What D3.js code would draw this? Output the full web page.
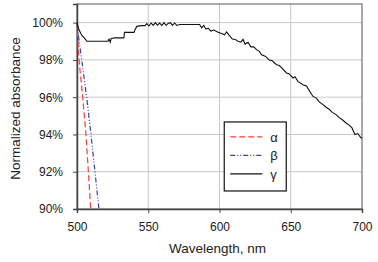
<!DOCTYPE html>
<html>
<head>
<meta charset="utf-8">
<script src="https://cdn.jsdelivr.net/npm/d3@7"></script>
<style>
  body { margin: 0; background: #fff; }
  text { font-family: "Liberation Sans", Arial, sans-serif; fill: #222; }
</style>
</head>
<body>
<div id="chart"></div>
<script>
// wavelength (nm) and normalized absorbance (%)
const alphaX = [500, 501.4, 504, 506.3, 508, 509.6];
const alphaY = [100, 98, 96, 94, 92, 90];

const betaX = [500, 501.5, 503.3, 506.8, 509.8, 512.6, 515.4];
const betaY = [100, 99, 98, 96, 94, 92, 90];

const gammaX = [500, 501.5, 503.5, 505, 507, 510, 515, 521.7, 522.5, 523.3, 524, 526.6, 530, 532.9, 533.3, 536, 540, 540.7, 542, 545,
  547.7, 549, 550.5, 552, 553.5, 555, 556.5, 558, 559.5, 561, 562.5, 564, 565.5, 567, 568.5, 570, 572, 574, 578, 582, 586,
  587.5, 589, 590.5, 592, 594, 596, 599, 601.5, 603.5, 605, 607, 609, 611, 613, 615, 616.5, 618, 620, 622, 624, 626, 628,
  629.5, 632, 635, 637, 640, 642, 644, 647, 649, 651.6, 653, 655, 658.6, 661, 663, 665.6, 668, 670, 672.6, 675, 677, 679,
  682, 684, 686, 689, 691, 693, 695, 697, 699, 700];
const gammaY = [100, 99.6, 99.3, 99.2, 99.0, 99.0, 99.0, 99.0, 99.12, 98.95, 99.15, 99.18, 99.18, 99.18, 99.48, 99.48, 99.48, 99.62, 99.8, 99.84,
  99.84, 99.95, 99.82, 99.98, 99.85, 100, 99.86, 99.98, 99.84, 100, 99.86, 99.96, 100, 99.85, 99.98, 99.85, 99.9, 99.9, 99.9, 99.9, 99.9,
  99.72, 99.85, 99.65, 99.7, 99.55, 99.6, 99.48, 99.42, 99.35, 99.5, 99.3, 99.12, 99.1, 99.0, 98.95, 99.1, 98.85, 98.95, 98.7, 98.7, 98.55, 98.46,
  98.28, 98.2, 98.0, 97.95, 97.74, 97.7, 97.55, 97.3, 97.25, 97.03, 97.1, 96.85, 96.67, 96.6, 96.35, 96.04, 95.95, 95.75, 95.6, 95.45, 95.35, 95.2,
  95.05, 94.9, 94.8, 94.6, 94.5, 94.35, 94.0, 94.05, 93.85, 93.8];

const xTicks = [500, 550, 600, 650, 700];
const yTicks = [90, 92, 94, 96, 98, 100];

const seriesNames = ["\u03b1", "\u03b2", "\u03b3"];
const seriesX = [alphaX, betaX, gammaX];
const seriesY = [alphaY, betaY, gammaY];

/* ----------------------- Dimensions ----------------------- */
const W = 378, H = 262;
const margin = { top: 4, right: 16, bottom: 53, left: 77 };
const width = W - margin.left - margin.right;
const height = H - margin.top - margin.bottom;

const svg = d3.select("#chart").append("svg")
  .attr("width", W).attr("height", H);
const g = svg.append("g").attr("transform", `translate(${margin.left},${margin.top})`);

/* ----------------------- Scales ----------------------- */
const x = d3.scaleLinear().domain([500, 700]).range([0, width]);
const y = d3.scaleLinear().domain([90, 101]).range([height, 0]);

// gridlines
g.append("g").selectAll("line").data(yTicks.slice(1)).enter().append("line")
  .attr("x1", 0).attr("x2", width)
  .attr("y1", d => y(d)).attr("y2", d => y(d))
  .attr("stroke", "#c8c8c8").attr("stroke-width", 1);
g.append("g").selectAll("line").data(xTicks.slice(1, -1)).enter().append("line")
  .attr("y1", 0).attr("y2", height)
  .attr("x1", d => x(d)).attr("x2", d => x(d))
  .attr("stroke", "#c8c8c8").attr("stroke-width", 1);

// frame
g.append("rect").attr("width", width).attr("height", height)
  .attr("fill", "none").attr("stroke", "#555").attr("stroke-width", 1);

// axes
const xAxis = g.append("g").attr("transform", `translate(0,${height})`)
  .call(d3.axisBottom(x).tickValues(xTicks).tickSize(4).tickPadding(9));
const yAxis = g.append("g")
  .call(d3.axisLeft(y).tickValues(yTicks).tickSize(4).tickPadding(10).tickFormat(d => d + "%"));
[xAxis, yAxis].forEach(a => {
  a.select(".domain").attr("stroke", "#444").attr("stroke-width", 1.5);
  a.selectAll(".tick line").attr("stroke", "#444");
  a.selectAll("text").style("font-size", "12px").attr("fill", "#222");
});

/* ----------------------- Lines ----------------------- */
const colors = ["#ff3b3b", "#3d3db5", "#111"];
const dashes = ["6,3", "5,2,1,2,1,2", null];
const line = d3.line().x(d => x(d[0])).y(d => y(d[1]));

seriesNames.forEach((name, i) => {
  const pts = seriesX[i].map((v, j) => [v, seriesY[i][j]]);
  g.append("path").datum(pts)
    .attr("d", line)
    .attr("fill", "none")
    .attr("stroke", colors[i])
    .attr("stroke-width", i === 2 ? 1.1 : 1.2)
    .attr("stroke-dasharray", dashes[i]);
});

/* ----------------------- Legend ----------------------- */
const legend = g.append("g").attr("transform", `translate(${x(550) + 76},${y(94.67)})`);
legend.append("rect").attr("width", 62).attr("height", 69)
  .attr("fill", "#fff").attr("stroke", "#111").attr("stroke-width", 1.2);
seriesNames.forEach((name, i) => {
  const ly = 15 + i * 18.5;
  legend.append("line").attr("x1", 6).attr("x2", 38).attr("y1", ly).attr("y2", ly)
    .attr("stroke", colors[i]).attr("stroke-width", 1.3)
    .attr("stroke-dasharray", dashes[i]);
  legend.append("text").attr("x", 46).attr("y", ly).attr("dy", "0.35em")
    .style("font-size", "13px").text(name);
});

/* ----------------------- Titles ----------------------- */
svg.append("text")
  .attr("x", margin.left + width / 2 - 2).attr("y", 253)
  .attr("text-anchor", "middle").style("font-size", "13.5px")
  .text("Wavelength, nm");
svg.append("text")
  .attr("transform", `translate(20,${margin.top + height / 2 + 2}) rotate(-90)`)
  .attr("text-anchor", "middle").style("font-size", "13.5px")
  .text("Normalized absorbance");
</script>
</body>
</html>
